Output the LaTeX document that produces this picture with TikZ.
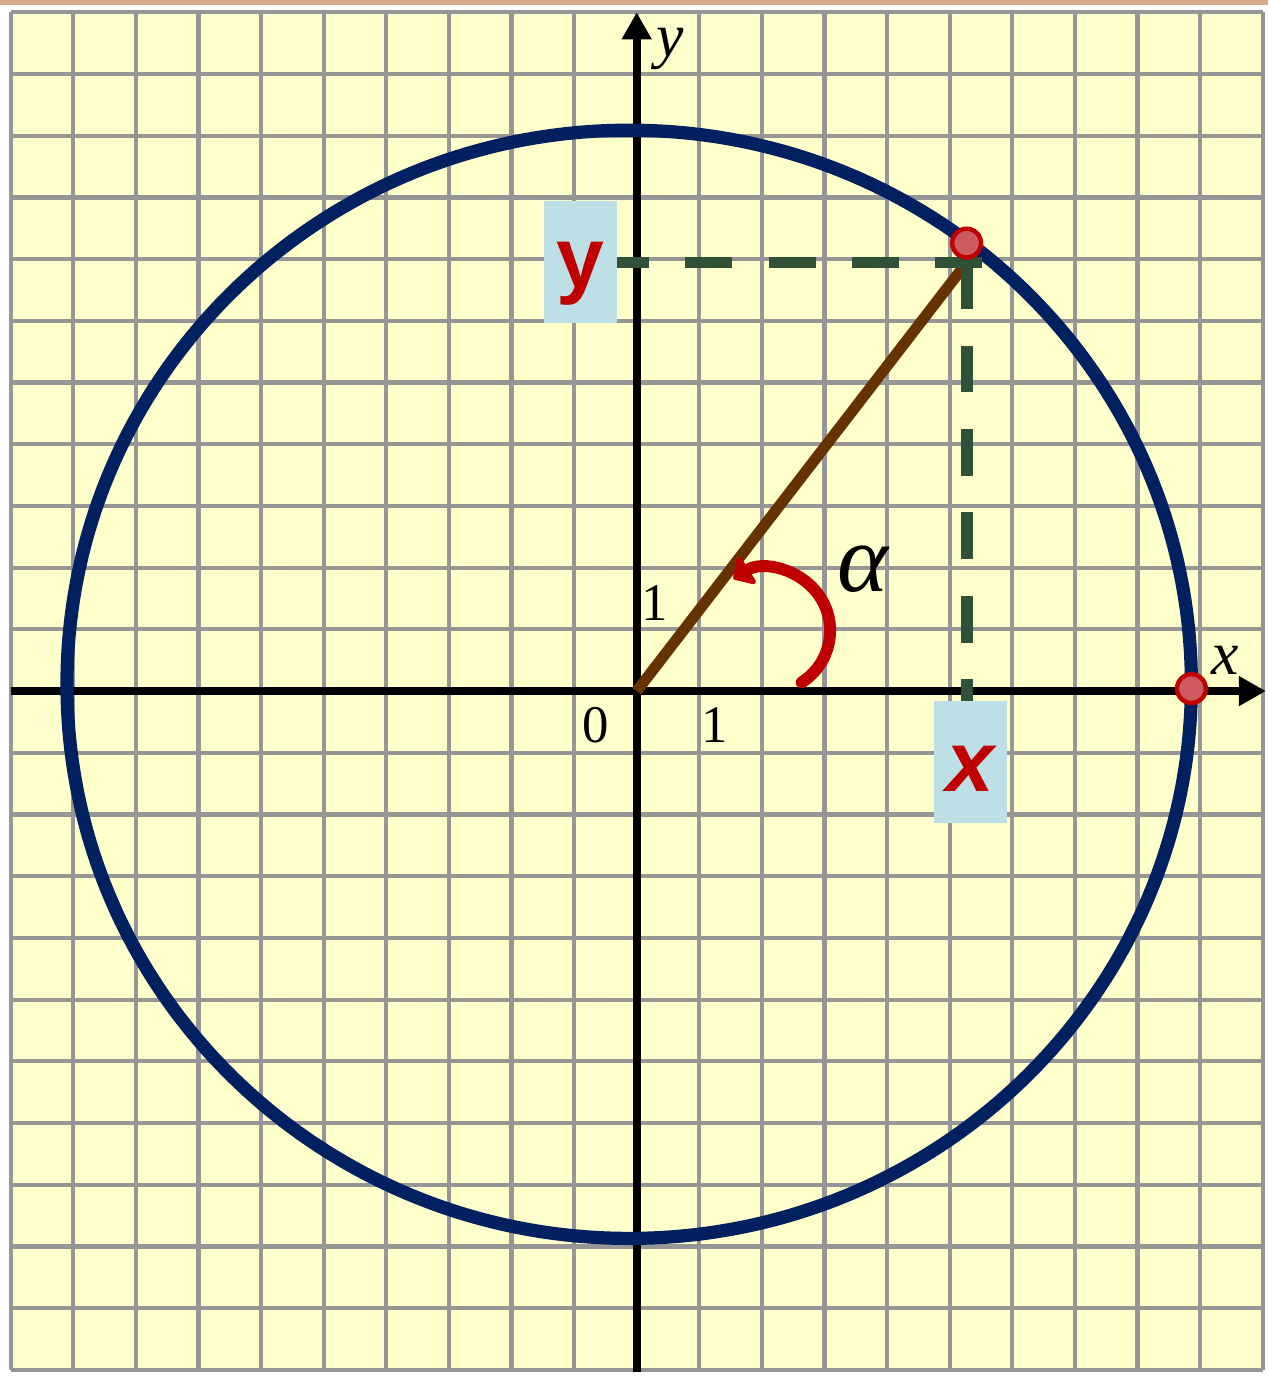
\documentclass[tikz,border=0pt]{standalone}
\usepackage{xcolor}
\usepackage{fontspec}
\setmainfont{Liberation Serif}
\newfontfamily\labelfont{Liberation Sans}
\usepackage{tikz}
\definecolor{paperbg}{RGB}{255,255,204}
\definecolor{gridgray}{RGB}{150,150,150}
\definecolor{circblue}{RGB}{0,32,96}
\definecolor{radbrown}{RGB}{102,51,0}
\definecolor{projgreen}{RGB}{48,80,56}
\definecolor{labelred}{RGB}{192,0,0}
\definecolor{boxblue}{RGB}{188,224,230}
\definecolor{dotfill}{RGB}{205,90,95}
\definecolor{topband}{RGB}{212,172,135}
\usetikzlibrary{arrows.meta, positioning}

\begin{document}
\begin{tikzpicture}[x=1cm, y=0.9856cm,
  gridline/.style={draw=gridgray, line width=1.9pt},
  axis/.style={line width=3.6pt, -{Triangle[length=4.3mm, width=4.5mm]}},
  unitcirc/.style={draw=circblue, line width=6pt},
  radius line/.style={draw=radbrown, line width=5pt},
  proj/.style={draw=projgreen, line width=5.2pt, dash pattern=on 21.3pt off 16.6pt},
  turn/.style={draw=labelred, line width=5.4pt, line cap=round, -{Triangle[length=3mm, width=6mm, round]}},
  dot/.style={circle, draw=labelred, fill=dotfill, line width=2pt, minimum size=4.6mm, inner sep=0pt},
  coordbox/.style={fill=boxblue, minimum width=1.17cm, minimum height=1.95cm, inner sep=0pt,
    text=labelred, font=\labelfont\bfseries\fontsize{39}{44}\selectfont},
  axislabel/.style={font=\fontsize{28}{32}\selectfont\itshape},
  numlabel/.style={font=\fontsize{24}{28}\selectfont}
]

  % Page margins and the strip at the top
  \useasboundingbox[fill=white] (-10.17,-11.10) rectangle (10.09,11.20);
  \fill[topband] (-10.17,11.125) rectangle (10.09,11.20);

  % Squared paper
  \fill[paperbg] (-10,-11) rectangle (10,11);
  \foreach \gx in {-10,...,10} \draw[gridline] (\gx,-11) -- (\gx,11);
  \foreach \gy in {-11,...,11} \draw[gridline] (-10,\gy) -- (10,\gy);

  % Axes
  \draw[axis] (-10,0) -- (10.05,0);
  \draw[axis] (0,-11.04) -- (0,11.0);
  \node[axislabel] (xname) at (9.40,0.50) {x};
  \node[axislabel] (yname) at (0.53,10.41) {y};
  \node[numlabel] (zero) at (-0.66,-0.55) {0};
  \node[numlabel] (onex) at (1.25,-0.55) {1};
  \node[numlabel] (oney) at (0.28,1.42) {1};

  % Key points
  \coordinate (O) at (0,0);
  \coordinate (M) at (-0.12,0.11);
  \coordinate (C) at (5.275,6.95);
  \coordinate (Cr) at (5.52,6.95);
  \coordinate (yb) at (-0.903,6.95);
  \coordinate (xb) at (5.335,-1.151);
  \coordinate (turnc) at (2.09,0.98);

  % Circle and radius
  \draw[unitcirc] (M) circle[radius=8.98];
  \draw[radius line] (O) -- (C);

  % Angle arrow
  \draw[turn] ([shift={(-57:1)}]turnc) arc[start angle=-57, end angle=123, radius=1];
  \node[font=\fontsize{44}{48}\selectfont\itshape] (alpha) at (3.61,1.98) {α};

  % Projections onto the axes
  \draw[proj] (Cr) -- (yb);
  \draw[proj] (C) -- (C |- xb);
  \node[coordbox, text height=31pt, text depth=8pt] (ybox) at (yb) {y};
  \node[coordbox, font=\labelfont\bfseries\itshape\fontsize{39}{44}\selectfont,
    text height=27pt, text depth=0pt] (xbox) at (xb) {x};

  % Points on the circle
  \node[dot] (P) at (5.27,7.26) {};
  \node[dot] (A) at (8.86,0.04) {};

\end{tikzpicture}
\end{document}
